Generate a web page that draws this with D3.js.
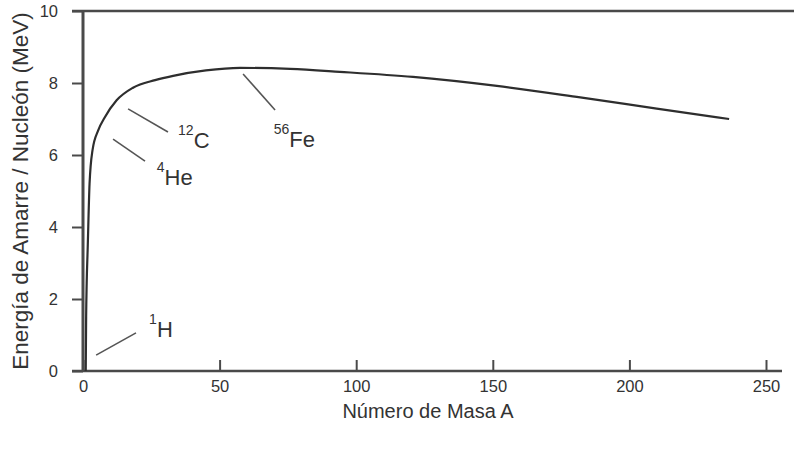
<!DOCTYPE html>
<html>
<head>
    <meta charset="utf-8">
    <title>Energía de amarre por nucleón</title>
    <script src="https://d3js.org/d3.v7.min.js"></script>
    <style>
        body { margin: 0; background: #fff; }
        text { font-family: "Liberation Sans", Arial, sans-serif; fill: #333; }
    </style>
</head>
<body>
<div id="chart"></div>

<script type="text/javascript">
    // curva: número de masa A vs energía por nucleón (MeV)
    let massNumber = [1, 1.15, 1.35, 1.7, 2.4, 3.5, 5.6, 8, 12.3, 18.3, 26.4, 33, 45, 57.5, 75.8, 94, 120.8, 151.5, 182, 210, 236.5];
    let bindingEnergy = [0, 1.5, 2.44, 3.36, 5.2, 6.14, 6.69, 7.05, 7.52, 7.87, 8.08, 8.2, 8.35, 8.42, 8.39, 8.31, 8.17, 7.92, 7.6, 7.29, 7.0];

    let xTicks = [0, 50, 100, 150, 200, 250];
    let yTicks = [0, 2, 4, 6, 8, 10];

    // etiquetas de los núcleos: isótopo, símbolo, punta y cola de la flecha (A, MeV), posición del texto
    let nucleusMass = ["1", "4", "12", "56"];
    let nucleusSymbol = ["H", "He", "C", "Fe"];
    let pointerFrom = [[4.8, 0.44], [11.0, 6.44], [16.5, 7.28], [58.6, 8.25]];
    let pointerTo = [[19.4, 1.06], [22.7, 5.83], [31.1, 6.64], [70.3, 7.25]];
    let labelAt = [[24.2, 0.94], [27.0, 5.17], [34.8, 6.19], [69.8, 6.22]];

    let margin = {top: 11, right: 28, bottom: 80, left: 83};
    let W = 794, H = 451;
    let w = W - margin.left - margin.right;
    let h = H - margin.top - margin.bottom;

    let svg = d3.select("#chart")
        .append("svg")
            .attr("width", W)
            .attr("height", H)
        .append("g")
            .attr("transform", "translate(" + margin.left + "," + margin.top + ")");

    let xScale = d3.scaleLinear()
        .domain([0, 250])
        .range([0, 683]);

    let yScale = d3.scaleLinear()
        .domain([0, 10])
        .range([h, 0]);

    let axisColor = "#4a4a4a";

    // marco: arriba, izquierda y abajo
    svg.append("line")
        .attr("x1", -11).attr("x2", W - margin.left)
        .attr("y1", yScale(10)).attr("y2", yScale(10))
        .attr("stroke", axisColor).attr("stroke-width", 2.5);
    svg.append("line")
        .attr("x1", 0).attr("x2", 0)
        .attr("y1", yScale(10)).attr("y2", yScale(0))
        .attr("stroke", axisColor).attr("stroke-width", 3);
    svg.append("line")
        .attr("x1", -11).attr("x2", 699)
        .attr("y1", yScale(0)).attr("y2", yScale(0))
        .attr("stroke", axisColor).attr("stroke-width", 2.5);

    let xAxis = d3.axisBottom(xScale)
        .tickValues(xTicks)
        .tickSizeInner(-11)
        .tickSizeOuter(0)
        .tickPadding(9);

    let yAxis = d3.axisLeft(yScale)
        .tickValues(yTicks)
        .tickSizeInner(11)
        .tickSizeOuter(0)
        .tickPadding(14);

    let gx = svg.append("g")
        .attr("transform", "translate(0," + h + ")")
        .call(xAxis);
    let gy = svg.append("g")
        .call(yAxis);

    [gx, gy].forEach(function (g) {
        g.select(".domain").remove();
        g.selectAll("line").attr("stroke", axisColor).attr("stroke-width", 2);
        g.selectAll("text")
            .attr("font-family", "Liberation Sans, Arial, sans-serif")
            .attr("font-size", "16.5px")
            .attr("fill", "#333");
    });

    // curva
    let points = massNumber.map(function (a, i) { return [a, bindingEnergy[i]]; });
    let line = d3.line()
        .x(function (d) { return xScale(d[0]); })
        .y(function (d) { return yScale(d[1]); })
        .curve(d3.curveMonotoneX);

    svg.append("path")
        .datum(points)
        .attr("fill", "none")
        .attr("stroke", "#2e2e2e")
        .attr("stroke-width", 2.2)
        .attr("d", line);

    // flechas y etiquetas de núcleos
    nucleusSymbol.forEach(function (sym, i) {
        svg.append("line")
            .attr("x1", xScale(pointerFrom[i][0])).attr("y1", yScale(pointerFrom[i][1]))
            .attr("x2", xScale(pointerTo[i][0])).attr("y2", yScale(pointerTo[i][1]))
            .attr("stroke", "#555")
            .attr("stroke-width", 1.6);

        let t = svg.append("text")
            .attr("x", xScale(labelAt[i][0]))
            .attr("y", yScale(labelAt[i][1]))
            .attr("font-size", "22px");
        t.append("tspan")
            .attr("font-size", "14px")
            .attr("dy", -13)
            .text(nucleusMass[i]);
        t.append("tspan")
            .attr("dy", 13)
            .text(sym);
    });

    // títulos de ejes
    svg.append("text")
        .attr("x", 345)
        .attr("y", 418 - margin.top)
        .style("text-anchor", "middle")
        .attr("font-size", "20px")
        .text("Número de Masa A");

    svg.append("text")
        .attr("transform", "rotate(-90)")
        .attr("x", -(191 - margin.top))
        .attr("y", 28 - margin.left)
        .style("text-anchor", "middle")
        .attr("font-size", "22.5px")
        .text("Energía de Amarre / Nucleón (MeV)");
</script>
</body>
</html>
